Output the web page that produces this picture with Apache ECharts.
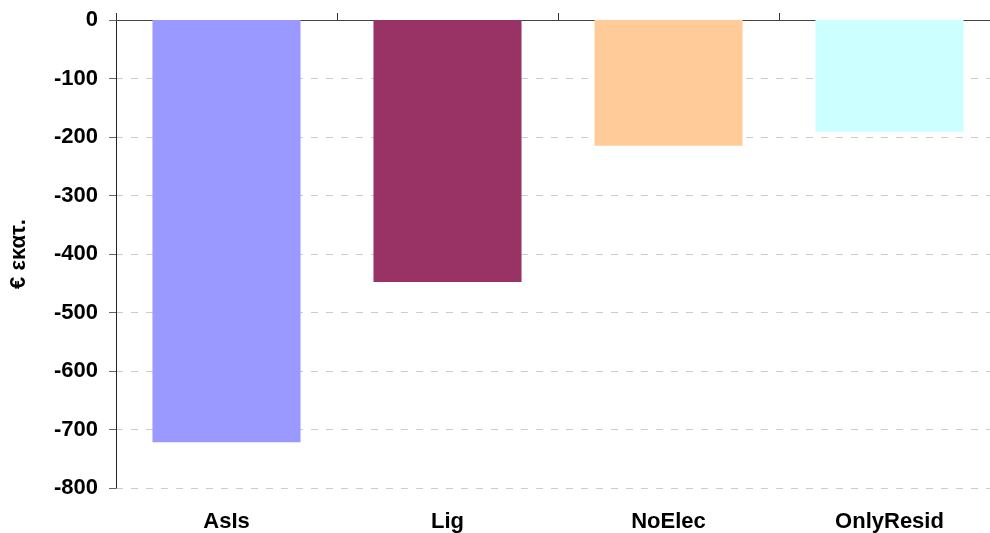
<!DOCTYPE html>
<html>
<head>
<meta charset="utf-8">
<script src="https://cdn.jsdelivr.net/npm/echarts@6/dist/echarts.min.js"></script>
<style>
  html, body { margin: 0; padding: 0; background: #fff; overflow: hidden; }
  /* the plot runs a little past the right edge of the 990px view */
  #chart { width: 1000px; height: 533px; }
</style>
</head>
<body>
<div id="chart"></div>
<script>
// Scenario results, million euros
const categories = ['AsIs', 'Lig', 'NoElec', 'OnlyResid'];
const values = [-722, -448, -215, -191];
const yTicks = { min: -800, max: 0, interval: 100 };
const axisName = '€ εκατ.';

// Fill colour per scenario
const barColors = ['#9999FF', '#993366', '#FFCC99', '#CCFFFF'];

const font = '"Liberation Sans", Arial, Helvetica, sans-serif';

const chart = echarts.init(document.getElementById('chart'), null, { renderer: 'canvas' });

chart.setOption({
  animation: false,
  backgroundColor: '#ffffff',
  grid: { left: 115, top: 20, right: 0, height: 468, containLabel: false },
  xAxis: [
    {
      // zero line with category dividers pointing upward
      type: 'category',
      data: categories,
      position: 'top',
      axisLine: { show: true, lineStyle: { color: '#444', width: 1 } },
      axisTick: { show: true, length: 7, lineStyle: { color: '#333' } },
      axisLabel: { show: false },
      splitLine: { show: false }
    },
    {
      // category names below the plot
      type: 'category',
      data: categories,
      position: 'bottom',
      axisLine: { show: false },
      axisTick: { show: false },
      axisLabel: {
        show: true,
        margin: 23,
        color: '#000',
        fontFamily: font,
        fontWeight: 'bold',
        fontSize: 22
      },
      splitLine: { show: false }
    }
  ],
  yAxis: {
    type: 'value',
    min: yTicks.min,
    max: yTicks.max,
    interval: yTicks.interval,
    name: axisName,
    nameLocation: 'middle',
    nameGap: 86,
    nameRotate: 90,
    nameTextStyle: {
      color: '#000',
      fontFamily: font,
      fontWeight: 'bold',
      fontSize: 22
    },
    axisLine: { show: true, lineStyle: { color: '#222', width: 1 } },
    axisTick: { show: true, length: 7, lineStyle: { color: '#666' } },
    axisLabel: {
      margin: 18,
      color: '#000',
      fontFamily: font,
      fontWeight: 'bold',
      fontSize: 22
    },
    splitLine: {
      show: true,
      lineStyle: { color: '#cccccc', type: [7, 8], width: 1 }
    }
  },
  series: [{
    type: 'bar',
    xAxisIndex: 0,
    data: values.map((v, i) => ({ value: v, itemStyle: { color: barColors[i] } })),
    barCategoryGap: '33%',
    z: 1
  }]
});
</script>
</body>
</html>
